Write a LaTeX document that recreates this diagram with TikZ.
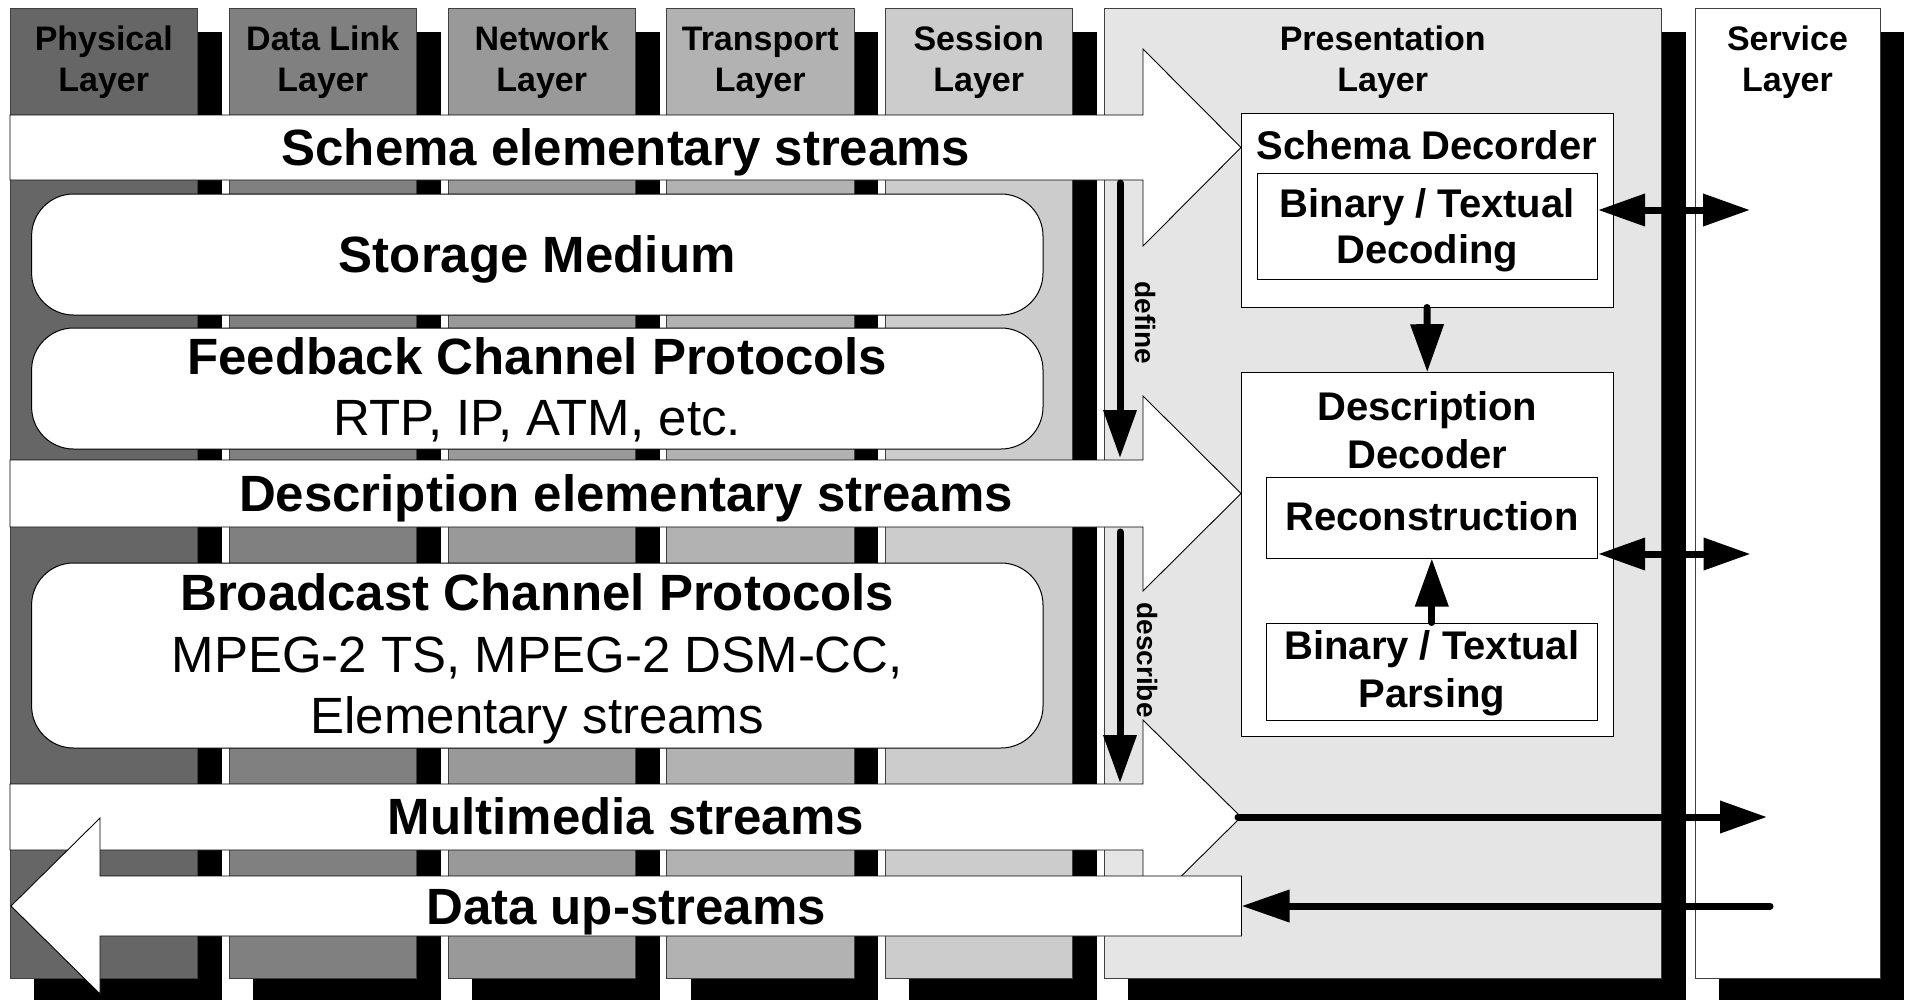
\documentclass[tikz,border=0pt]{standalone}
\usepackage{fontspec}
\setmainfont{Liberation Sans}
\usetikzlibrary{arrows.meta}

\definecolor{layerA}{gray}{0.40}
\definecolor{layerB}{gray}{0.50}
\definecolor{layerC}{gray}{0.60}
\definecolor{layerD}{gray}{0.70}
\definecolor{layerE}{gray}{0.80}
\definecolor{layerF}{gray}{0.90}
\definecolor{edgegray}{gray}{0.25}

\tikzset{
  layercol/.style={draw=edgegray, line width=1pt},
  band/.style={draw=black, fill=white, line width=0.9pt, line join=miter},
  roundbox/.style={draw=black, fill=white, line width=1pt, rounded corners=42pt, inner sep=0pt},
  decbox/.style={draw=black, fill=white, line width=1pt, inner sep=0pt},
  headtext/.style={font=\fontsize{34}{41}\selectfont\bfseries, anchor=base},
  bigtext/.style={font=\fontsize{51}{61}\selectfont\bfseries, anchor=base},
  bigplain/.style={font=\fontsize{51}{61}\selectfont, anchor=base},
  midtext/.style={font=\fontsize{40}{48}\selectfont\bfseries, anchor=base},
  sidetext/.style={font=\fontsize{28}{34}\selectfont\bfseries, rotate=-90},
  flowarrow/.style={line width=7pt, line cap=round, -{Triangle[length=48pt,width=32pt]}},
  linkarrow/.style={line width=7pt, {Triangle[length=47pt,width=31pt]}-{Triangle[length=47pt,width=31pt]}},
}

\begin{document}
\begin{tikzpicture}[x=1pt,y=-1pt]
\useasboundingbox (0,0) rectangle (1906,999);

% drop shadows of the layer columns
\foreach \l/\r in {10/197.5, 229/416.5, 448/635.5, 666.5/854, 885/1072.5, 1104/1661.5, 1695/1880}
  \fill[black] (\l+24,32.3) rectangle (\r+24,1004);

% layer columns
\foreach \l/\r/\c in {10/197.5/layerA, 229/416.5/layerB, 448/635.5/layerC, 666.5/854/layerD, 885/1072.5/layerE, 1104/1661.5/layerF, 1695/1880/white}
  \draw[layercol, fill=\c] (\l,8.3) rectangle (\r,978);

% layer headings
\node[headtext] (phys1) at (103.75,50.5) {Physical};
\node[headtext] (phys2) at (103.75,91.5) {Layer};
\node[headtext] (link1) at (322.75,50.5) {Data Link};
\node[headtext] (link2) at (322.75,91.5) {Layer};
\node[headtext] (net1) at (541.75,50.5) {Network};
\node[headtext] (net2) at (541.75,91.5) {Layer};
\node[headtext] (trans1) at (760.25,50.5) {Transport};
\node[headtext] (trans2) at (760.25,91.5) {Layer};
\node[headtext] (sess1) at (978.75,50.5) {Session};
\node[headtext] (sess2) at (978.75,91.5) {Layer};
\node[headtext] (pres1) at (1382.75,50.5) {Presentation};
\node[headtext] (pres2) at (1382.75,91.5) {Layer};
\node[headtext] (serv1) at (1787.5,50.5) {Service};
\node[headtext] (serv2) at (1787.5,91.5) {Layer};

% stream arrows
\draw[band] (10,115) -- (1143,115) -- (1143,49) -- (1241,147.5) -- (1143,246) -- (1143,180) -- (10,180) -- cycle;
\node[bigtext] (schemaes) at (626,165) {Schema elementary streams};

\draw[band] (10,460) -- (1143,460) -- (1143,396) -- (1241,493.5) -- (1143,591) -- (1143,527) -- (10,527) -- cycle;
\node[bigtext] (descres) at (626,511) {Description elementary streams};

\draw[band] (10,784) -- (1143,784) -- (1143,720) -- (1241,817) -- (1143,914) -- (1143,850) -- (10,850) -- cycle;
\node[bigtext] (mmstreams) at (626,834) {Multimedia streams};

\draw[band] (1241.5,876) -- (100,876) -- (100,818) -- (11,906) -- (100,994) -- (100,936) -- (1241.5,936) -- cycle;
\node[bigtext] (upstreams) at (626,924) {Data up-streams};

% transport media
\node[roundbox, minimum width=1011.4pt, minimum height=121pt] (storage) at (537.3,254.5) {};
\node[bigtext] (storagetxt) at (537.3,272) {Storage Medium};

\node[roundbox, minimum width=1011.4pt, minimum height=121pt] (feedback) at (537.3,388.5) {};
\node[bigtext] (feedbacktxt) at (537.3,374) {Feedback Channel Protocols};
\node[bigplain] (feedbacksub) at (537.3,435) {RTP, IP, ATM, etc.};

\node[roundbox, minimum width=1011.4pt, minimum height=185pt] (broadcast) at (537.3,655.5) {};
\node[bigtext] (broadcasttxt) at (537.3,610) {Broadcast Channel Protocols};
\node[bigplain] (broadcastsub1) at (537.3,672) {MPEG-2 TS, MPEG-2 DSM-CC,};
\node[bigplain] (broadcastsub2) at (537.3,733) {Elementary streams};

% decoders of the presentation layer
\node[decbox, minimum width=372pt, minimum height=194pt] (schemadec) at (1427,210) {};
\node[midtext] (schemadectxt) at (1427,159) {Schema Decorder};
\node[decbox, minimum width=340.5pt, minimum height=106pt] (bindec) at (1427.25,226) {};
\node[midtext] (bindectxt1) at (1427.25,217) {Binary / Textual};
\node[midtext] (bindectxt2) at (1427.25,263) {Decoding};

\node[decbox, minimum width=372.5pt, minimum height=363.3pt] (descdec) at (1427.25,554.35) {};
\node[midtext] (descdectxt1) at (1427.25,420) {Description};
\node[midtext] (descdectxt2) at (1427.25,468) {Decoder};
\node[decbox, minimum width=331.6pt, minimum height=81pt] (recon) at (1431.8,517.5) {};
\node[midtext] (recontxt) at (1431.8,530) {Reconstruction};
\node[decbox, minimum width=331.6pt, minimum height=97pt] (parse) at (1431.8,671.5) {};
\node[midtext] (parsetxt1) at (1431.8,659) {Binary / Textual};
\node[midtext] (parsetxt2) at (1431.8,707) {Parsing};

% define / describe relations
\coordinate (defstart) at (1120,183);
\coordinate (defend) at (1120,458);
\coordinate (descstart) at (1120,532);
\coordinate (descend) at (1120,783);
\draw[flowarrow] (defstart) -- (defend);
\draw[flowarrow] (descstart) -- (descend);
\node[sidetext] (definetxt) at (1145,323) {define};
\node[sidetext] (describetxt) at (1147,660) {describe};

% decoder flow
\draw[flowarrow] (schemadec.south) -- (descdec.north);
\draw[flowarrow] (parse.north) -- (recon.south);

% links to the service layer
\coordinate (svcA) at (1750,210);
\coordinate (svcB) at (1750.5,554);
\draw[linkarrow] (bindec.east |- svcA) -- (svcA);
\draw[linkarrow] (recon.east |- svcB) -- (svcB);

\coordinate (mmtip) at (1238,817);
\coordinate (mmout) at (1767,817);
\draw[line width=7pt, line cap=round, -{Triangle[length=47pt,width=31pt]}] (mmtip) -- (mmout);
\coordinate (upin) at (1770,906);
\coordinate (upend) at (1241.5,906);
\draw[line width=7pt, line cap=round, -{Triangle[length=48pt,width=31pt]}] (upin) -- (upend);

\end{tikzpicture}
\end{document}
